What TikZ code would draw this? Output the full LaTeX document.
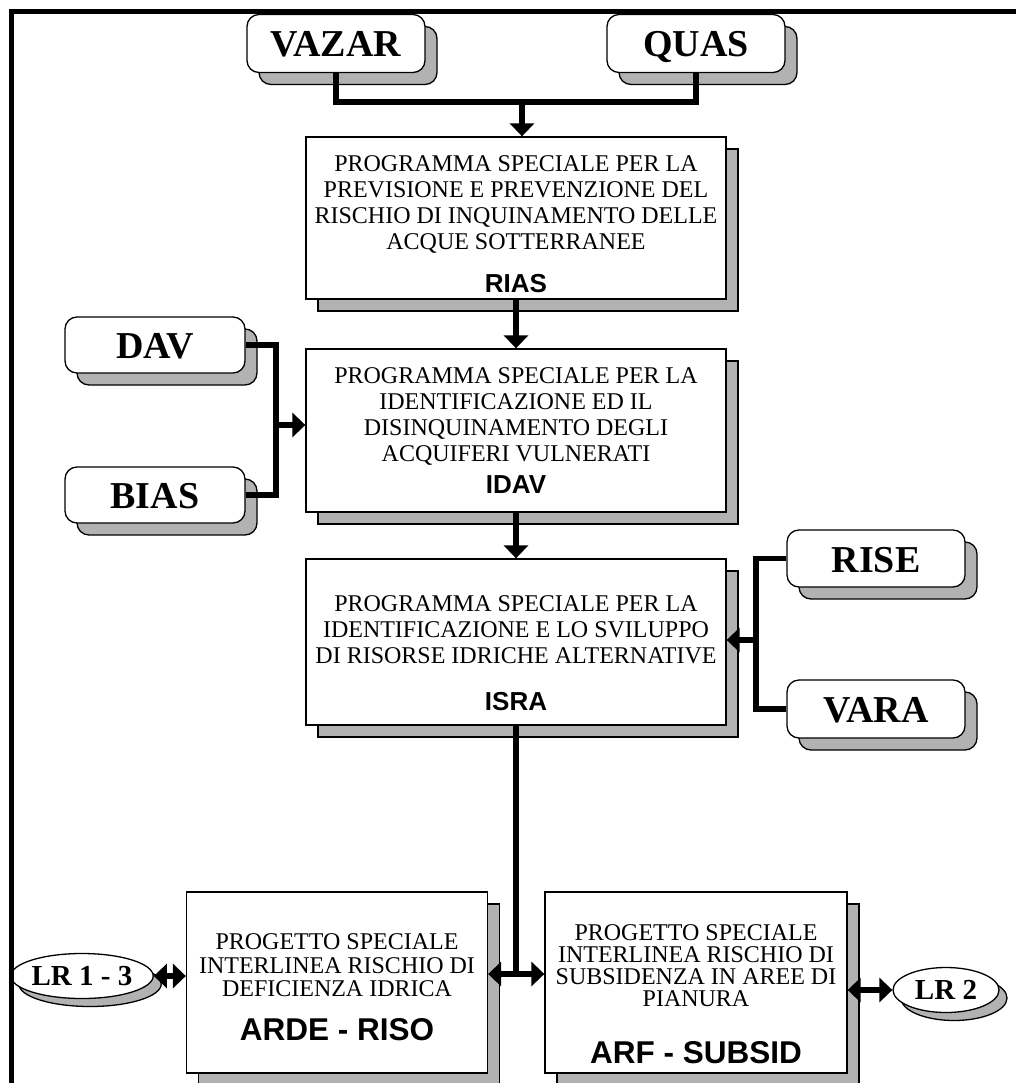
\documentclass[tikz,border=0pt]{standalone}
\usepackage{fontspec}
\setmainfont{Liberation Serif}
\setsansfont{Liberation Sans}
\usepackage{tikz}
\usetikzlibrary{arrows.meta, shapes.geometric, shadows, positioning}
\definecolor{ombra}{gray}{0.70}
\newcommand{\sigla}[2][26]{{\sffamily\bfseries\fontsize{#1}{#1}\selectfont #2}}
\newcommand{\alto}[1]{\rule{0pt}{#1}}

\begin{document}
\begin{tikzpicture}[x=1pt, y=-1pt, >={Triangle[width=24pt,length=13pt]},
    ombrato/.style={drop shadow={shadow xshift=12pt, shadow yshift=-12pt,
        fill=ombra, draw=black, line width=1.3pt, opacity=1}},
    box/.style={draw, line width=1.3pt, fill=white, align=center, inner sep=0pt,
        minimum width=420pt, font=\fontsize{24}{26}\selectfont, ombrato},
    tag/.style={draw, line width=1.3pt, fill=white, rounded corners=12pt, inner sep=0pt,
        minimum width=178pt, minimum height=58pt, text height=27pt, text depth=0pt,
        font=\fontsize{38}{38}\selectfont\bfseries, ombrato},
    lr/.style={ellipse, draw, line width=1.3pt, fill=white, inner sep=0pt,
        minimum height=45pt, text height=19pt, text depth=0pt,
        font=\fontsize{29}{29}\selectfont\bfseries,
        drop shadow={shadow xshift=8pt, shadow yshift=-8pt,
        fill=ombra, draw=black, line width=1.3pt, opacity=1}},
    conn/.style={line width=5.5pt}]
    \useasboundingbox (0,0) rectangle (1016,1083);

    % riquadri in alto
    \node[tag] (VAZAR) at (336,43.5) {VAZAR};
    \node[tag] (QUAS) at (696,43.5) {QUAS};

    % programmi speciali
    \node[box, minimum height=162pt] (RIAS) at (516,218) {\alto{28pt}PROGRAMMA SPECIALE PER LA\\
        PREVISIONE E PREVENZIONE DEL\\RISCHIO DI INQUINAMENTO DELLE\\
        ACQUE SOTTERRANEE\\[17pt]\sigla{RIAS}};
    \node[box, minimum height=163pt] (IDAV) at (516,430.5) {PROGRAMMA SPECIALE PER LA\\
        IDENTIFICAZIONE ED IL\\DISINQUINAMENTO DEGLI\\
        ACQUIFERI VULNERATI\\[6pt]\sigla{IDAV}};
    \node[box, minimum height=166pt] (ISRA) at (516,642) {\alto{38pt}PROGRAMMA SPECIALE PER LA\\
        IDENTIFICAZIONE E LO SVILUPPO\\DI RISORSE IDRICHE ALTERNATIVE\\[21pt]
        \sigla{ISRA}};

    % riquadri laterali
    \node[tag, minimum width=180pt, minimum height=56pt] (DAV) at (155,345) {DAV};
    \node[tag, minimum width=180pt, minimum height=56pt] (BIAS) at (155,495) {BIAS};
    \node[tag, minimum height=57pt] (RISE) at (876,558.5) {RISE};
    \node[tag] (VARA) at (876,709) {VARA};

    % progetti interlinea
    \node[box, minimum width=301pt, minimum height=181pt, font=\fontsize{24}{23.5}\selectfont]
        (ARDE) at (337,982.5) {\alto{25pt}PROGETTO SPECIALE\\INTERLINEA RISCHIO DI\\
        DEFICIENZA IDRICA\\[20pt]\sigla[31.5]{ARDE - RISO}};
    \node[box, minimum width=302pt, minimum height=181pt, font=\fontsize{24}{22}\selectfont]
        (ARF) at (696,982.5) {\alto{40pt}PROGETTO SPECIALE\\INTERLINEA RISCHIO DI\\
        SUBSIDENZA IN AREE DI\\PIANURA\\[34pt]\sigla[31.5]{ARF - SUBSID}};

    % leggi regionali
    \node[lr, minimum width=120pt] (LR13) at (82,976) {LR 1 - 3};
    \node[lr, minimum width=106pt] (LR2) at (946,990) {LR 2};

    % cornice
    \draw[line width=5pt] (11.5,1090) -- (11.5,11.5) -- (1020,11.5);

    % collegamenti
    \coordinate (jtop) at (522,102);
    \coordinate (jleft) at (276,425);
    \coordinate (jright) at (756,640);
    \coordinate (jbot) at (516,974);
    \draw[conn] (VAZAR.south) |- (jtop) -| (QUAS.south);
    \draw[conn,->] (jtop) -- (jtop |- RIAS.north);
    \draw[conn,->] (RIAS) -- (IDAV);
    \draw[conn,->] (IDAV) -- (ISRA);
    \draw[conn] (DAV.east) -| (jleft) |- (BIAS.east);
    \draw[conn,->] (jleft) -- (jleft -| IDAV.west);
    \draw[conn] (RISE.west) -| (jright) |- (VARA.west);
    \draw[conn,->] (jright) -- (jright -| ISRA.east);
    \draw[conn] (ISRA.south) -- (jbot);
    \draw[conn,->] (jbot) -- (jbot -| ARDE.east);
    \draw[conn,->] (jbot) -- (jbot -| ARF.west);
    \draw[conn,<->] (LR13.east) -- (LR13.east -| ARDE.west);
    \draw[conn,<->] (LR2.west -| ARF.east) -- (LR2.west);
\end{tikzpicture}
\end{document}
